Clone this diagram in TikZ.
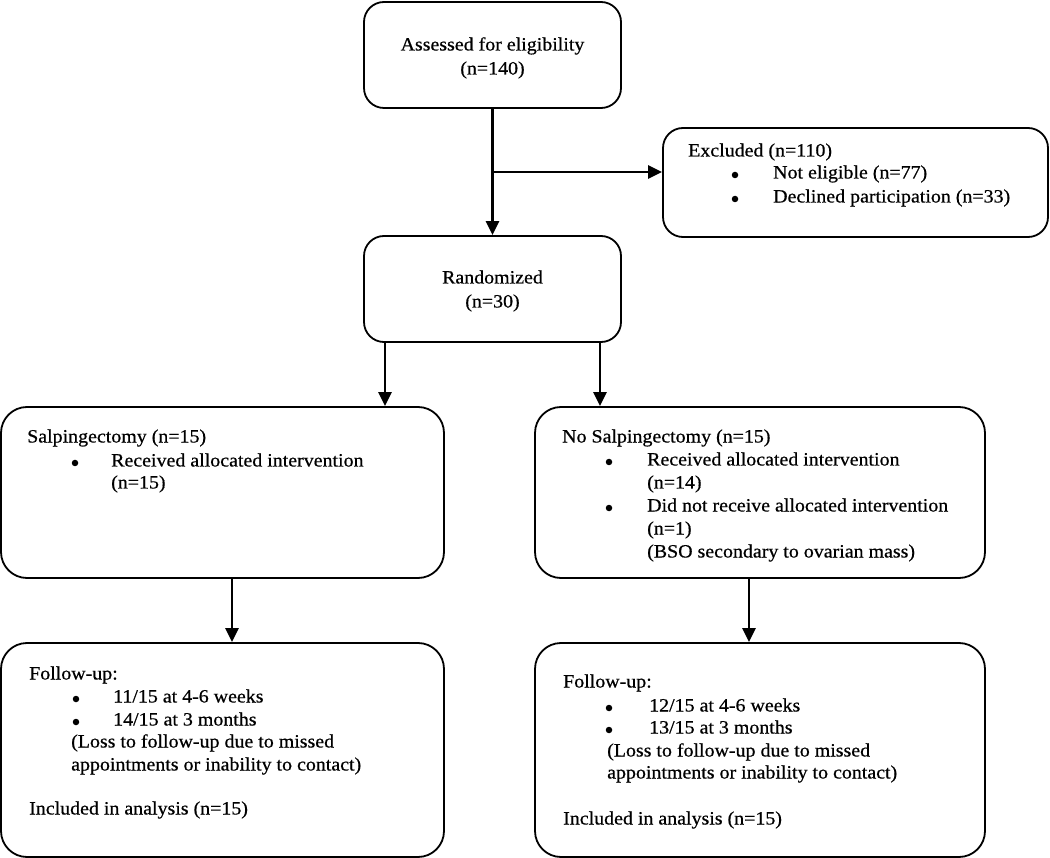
\documentclass[tikz,border=0pt]{standalone}
\usepackage{fontspec}
\setmainfont{Liberation Serif}[FakeStretch=1.06,FakeBold=0.6]
\usetikzlibrary{arrows.meta,calc}
\begin{document}
\begin{tikzpicture}[x=1pt,y=-1pt,
  box/.style={draw=black,line width=1.8pt,rounded corners=20pt,inner sep=0pt},
  arr/.style={line width=2.8pt,-{Triangle[length=14pt,width=13pt]}},
  txt/.style={anchor=west,inner sep=0pt,font=\fontsize{18.8}{22}\selectfont,text height=13pt,text depth=4pt},
  ctxt/.style={txt,anchor=center},
  bul/.style={circle,fill=black,inner sep=0pt,minimum size=6.5pt}]
\useasboundingbox (0,0) rectangle (1050,858);
% boxes
\node[box,minimum width=257pt,minimum height=106pt] (assess) at (492.5,55) {};
\node[box,minimum width=385pt,minimum height=109pt] (excl) at (855.5,182.5) {};
\node[box,minimum width=257pt,minimum height=106pt] (rand) at (492.5,289) {};
\node[box,minimum width=443pt,minimum height=171pt,rounded corners=26pt] (salp) at (222.5,492.5) {};
\node[box,minimum width=450pt,minimum height=171pt,rounded corners=26pt] (nosalp) at (760,492.5) {};
\node[box,minimum width=443pt,minimum height=214pt,rounded corners=26pt] (fl) at (222.5,750) {};
\node[box,minimum width=450pt,minimum height=214pt,rounded corners=26pt] (fr) at (760,750) {};
% texts
\node[ctxt] (t1) at (492.5,46) {Assessed for eligibility};
\node[ctxt] (t2) at (492.5,70) {(n=140)};
\node[ctxt] (t3) at (492.5,279) {Randomized};
\node[ctxt] (t4) at (492.5,303) {(n=30)};
\node[txt] (e1) at (688,152) {Excluded (n=110)};
\node[bul] (eb1) at (735,175) {};
\node[txt] (e2) at (773,174) {Not eligible (n=77)};
\node[bul] (eb2) at (735,199) {};
\node[txt] (e3) at (773,198) {Declined participation (n=33)};
\node[txt] (s1) at (27,438) {Salpingectomy (n=15)};
\node[bul] (sb1) at (75,463) {};
\node[txt] (s2) at (111,462) {Received allocated intervention};
\node[txt] (s3) at (111,484) {(n=15)};
\node[txt] (n1) at (562,438) {No Salpingectomy (n=15)};
\node[bul] (nb1) at (609,462) {};
\node[txt] (n2) at (647,461) {Received allocated intervention};
\node[txt] (n3) at (647,484) {(n=14)};
\node[bul] (nb2) at (609,508) {};
\node[txt] (n4) at (647,507) {Did not receive allocated intervention};
\node[txt] (n5) at (647,530) {(n=1)};
\node[txt] (n6) at (647,553) {(BSO secondary to ovarian mass)};
\node[txt] (l1) at (29,675) {Follow-up:};
\node[bul] (lb1) at (76,699) {};
\node[txt] (l2) at (113,698) {11/15 at 4-6 weeks};
\node[bul] (lb2) at (76,722) {};
\node[txt] (l3) at (113,721) {14/15 at 3 months};
\node[txt] (l4) at (71,743) {(Loss to follow-up due to missed};
\node[txt] (l5) at (71,766) {appointments or inability to contact)};
\node[txt] (l6) at (29,810) {Included in analysis (n=15)};
\node[txt] (r1) at (563,683) {Follow-up:};
\node[bul] (rb1) at (609,708) {};
\node[txt] (r2) at (649,707) {12/15 at 4-6 weeks};
\node[bul] (rb2) at (609,730) {};
\node[txt] (r3) at (649,729) {13/15 at 3 months};
\node[txt] (r4) at (607,752) {(Loss to follow-up due to missed};
\node[txt] (r5) at (607,774) {appointments or inability to contact)};
\node[txt] (r6) at (563,820) {Included in analysis (n=15)};
% connectors
\coordinate (j) at (492.5,172);
\draw[arr] (assess.south) -- (rand.north);
\draw[arr] (j) -- (j -| excl.west);
\draw[arr] ([xshift=-107.5pt]rand.south) -- ([xshift=-107.5pt]rand.south |- salp.north);
\draw[arr] ([xshift=107.5pt]rand.south) -- ([xshift=107.5pt]rand.south |- nosalp.north);
\draw[arr] ([xshift=9.5pt]salp.south) -- ([xshift=9.5pt]fl.north);
\draw[arr] ([xshift=-11pt]nosalp.south) -- ([xshift=-11pt]fr.north);
\end{tikzpicture}
\end{document}
